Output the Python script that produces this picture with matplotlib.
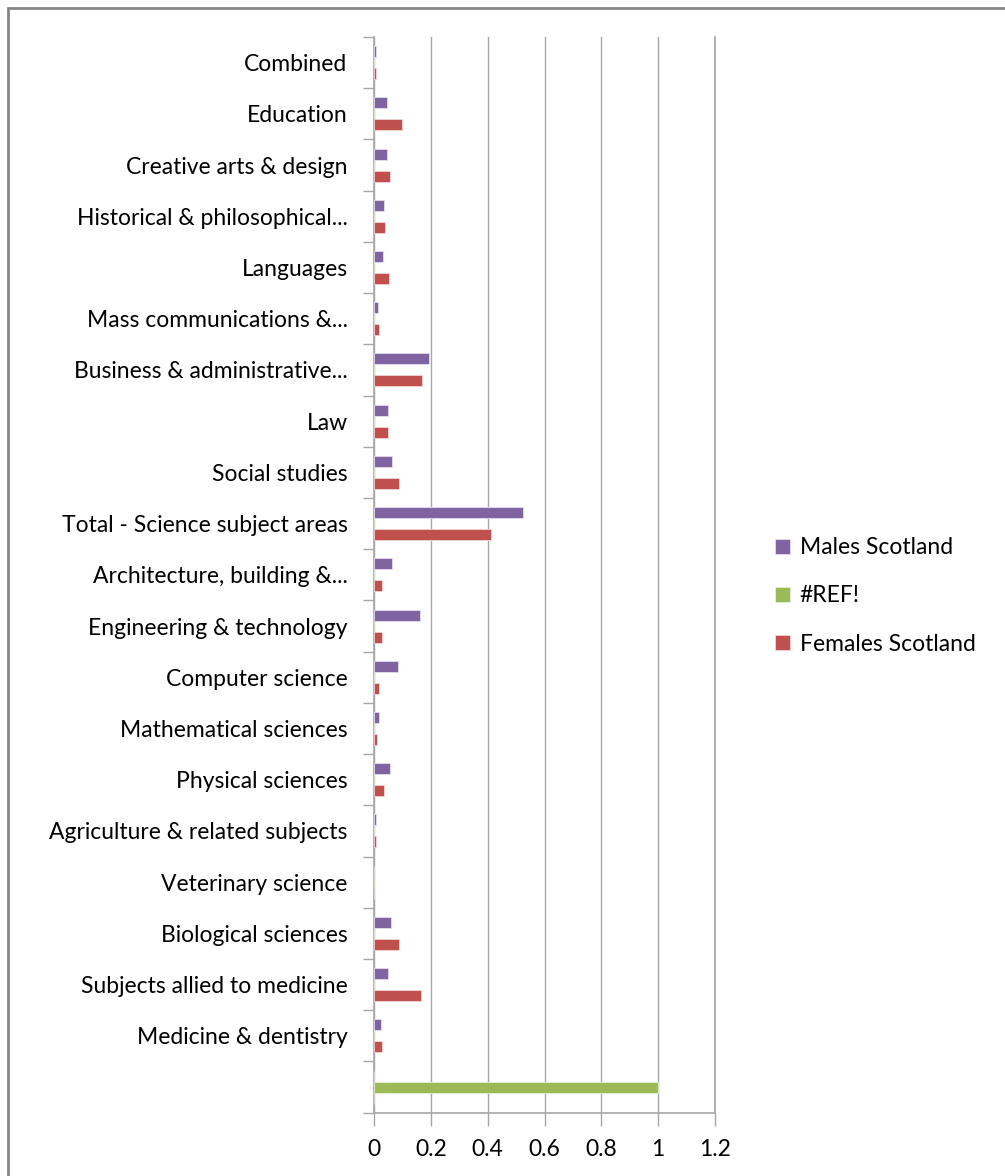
#=======================================================================
# Scotland subject area shares, horizontal grouped bar chart
#=======================================================================
import numpy as np
import matplotlib.pyplot as plt
from matplotlib.patches import Rectangle

# DATA -----------------------------------------------------------------
# listed bottom to top, as drawn
categories = ["", "Medicine & dentistry", "Subjects allied to medicine",
              "Biological sciences", "Veterinary science",
              "Agriculture & related subjects", "Physical sciences",
              "Mathematical sciences", "Computer science",
              "Engineering & technology", "Architecture, building &...",
              "Total - Science subject areas", "Social studies", "Law",
              "Business & administrative...", "Mass communications &...",
              "Languages", "Historical & philosophical...",
              "Creative arts & design", "Education", "Combined"]

males = [0, 0.025, 0.048, 0.060, 0, 0.008, 0.057, 0.016, 0.084, 0.161,
         0.062, 0.524, 0.062, 0.048, 0.193, 0.013, 0.030, 0.035, 0.044,
         0.044, 0.008]
ref_err = [1.0, 0, 0, 0, 0, 0, 0, 0, 0, 0, 0, 0, 0, 0, 0, 0, 0, 0, 0, 0, 0]
females = [0, 0.029, 0.164, 0.088, 0, 0.007, 0.035, 0.012, 0.016, 0.027,
           0.027, 0.412, 0.089, 0.048, 0.170, 0.016, 0.052, 0.040, 0.058,
           0.100, 0.007]

series_names = ["Males Scotland", "#REF!", "Females Scotland"]
xticks = [0, 0.2, 0.4, 0.6, 0.8, 1, 1.2]
xtick_labels = ["0", "0.2", "0.4", "0.6", "0.8", "1", "1.2"]

# STYLE ----------------------------------------------------------------
PURPLE = "#8064A2"
GREEN = "#9BBB59"
RED = "#C0504D"
GRID = "#A6A6A6"
BAR_H = 0.215
FS = 16.5

plt.rcParams['font.family'] = ['Lato', 'DejaVu Sans']

fig = plt.figure(figsize=(10.05, 11.76), dpi=100)
ax = fig.add_axes([374 / 1005, 1 - 1112.7 / 1176,
                   (715 - 374) / 1005, (1112.7 - 37) / 1176])

y = np.arange(len(categories))
ax.barh(y + BAR_H, males, height=BAR_H, color=PURPLE,
        edgecolor="#E4DDEE", linewidth=0.6, label=series_names[0], zorder=3)
ax.barh(y, ref_err, height=BAR_H, color=GREEN,
        edgecolor="#E6EFD6", linewidth=0.6, label=series_names[1], zorder=3)
ax.barh(y - BAR_H, females, height=BAR_H, color=RED,
        edgecolor="#F0D6D5", linewidth=0.6, label=series_names[2], zorder=3)

ax.set_xlim(0, 1.2)
ax.set_ylim(-0.5, len(categories) - 0.5)

ax.set_xticks(xticks)
ax.set_xticklabels(xtick_labels, fontsize=FS)
ax.tick_params(axis='x', direction='out', length=9, width=1, color=GRID,
               pad=10)

ax.set_yticks(y)
ax.set_yticklabels(categories, fontsize=FS)
ax.set_yticks(np.arange(len(categories) + 1) - 0.5, minor=True)
ax.tick_params(axis='y', which='major', length=0, pad=19)
ax.tick_params(axis='y', which='minor', direction='out', length=8,
               width=1, color=GRID)

ax.grid(axis='x', color=GRID, linewidth=1, zorder=0)
ax.set_axisbelow(True)
ax.spines["top"].set_visible(False)
for side in ["left", "bottom", "right"]:
    ax.spines[side].set_color(GRID)
    ax.spines[side].set_linewidth(1.2)

leg = fig.legend(loc='center left', bbox_to_anchor=(754 / 1005, 1 - 596 / 1176),
                 frameon=False, fontsize=FS, handlelength=0.65,
                 handleheight=0.65, handletextpad=0.45, labelspacing=1.18)

# outer chart border (only top and left visible in the crop)
fig.patches.append(Rectangle((8 / 1005, -0.1), 1.2, 1 - 8 / 1176 + 0.1,
                             transform=fig.transFigure, fill=False,
                             edgecolor="#868686", linewidth=2))

fig.savefig("out.png", dpi=100)
